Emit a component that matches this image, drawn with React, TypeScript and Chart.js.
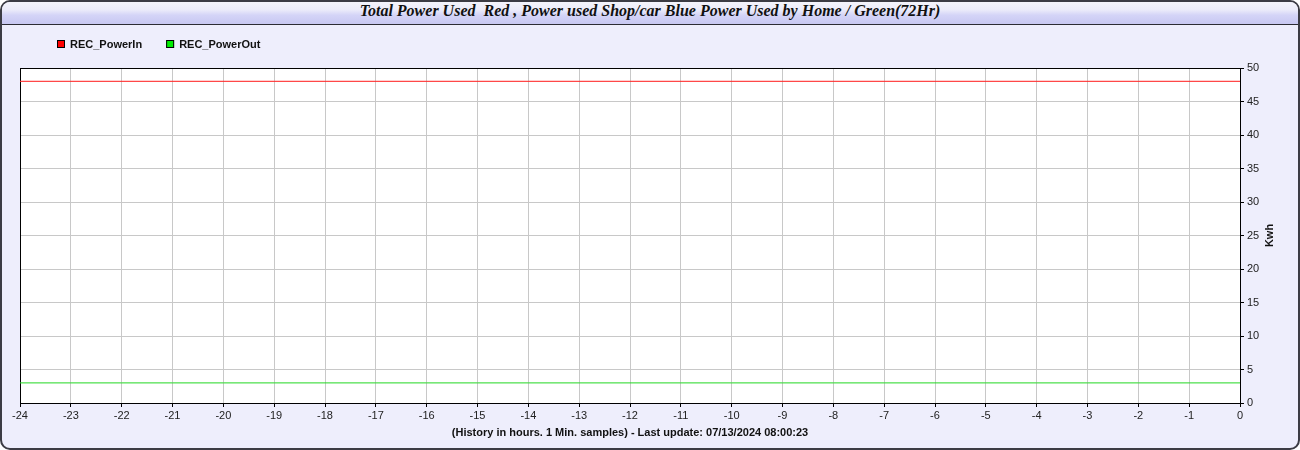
import React, { useEffect, useRef } from "react";
import { Chart, registerables } from "chart.js";

Chart.register(...registerables);

// Hourly readings over the last 24 hours (0 = now)
const hours = [-24, -23, -22, -21, -20, -19, -18, -17, -16, -15, -14, -13, -12, -11, -10, -9, -8, -7, -6, -5, -4, -3, -2, -1, 0];
const powerIn = [48, 48, 48, 48, 48, 48, 48, 48, 48, 48, 48, 48, 48, 48, 48, 48, 48, 48, 48, 48, 48, 48, 48, 48, 48];
const powerOut = [3, 3, 3, 3, 3, 3, 3, 3, 3, 3, 3, 3, 3, 3, 3, 3, 3, 3, 3, 3, 3, 3, 3, 3, 3];

const seriesLabels = ["REC_PowerIn", "REC_PowerOut"];
const seriesColors = ["rgba(255, 40, 40, 0.85)", "#22d822"];

const chartTitle = "Total Power Used  Red , Power used Shop/car Blue Power Used by Home / Green(72Hr)";
const xAxisTitle = "(History in hours. 1 Min. samples) - Last update: 07/13/2024 08:00:23";
const yAxisTitle = "Kwh";

const SANS = '"Liberation Sans", Arial, sans-serif';

const frameDecor = {
  id: "frameDecor",
  beforeDraw(chart: any) {
    const { ctx, chartArea } = chart;
    ctx.save();
    ctx.fillStyle = "#ffffff";
    ctx.fillRect(chartArea.left, chartArea.top, chartArea.right - chartArea.left, chartArea.bottom - chartArea.top);
    ctx.restore();
  },
  beforeDatasetsDraw(chart: any) {
    const { ctx, chartArea } = chart;
    ctx.save();
    ctx.strokeStyle = "#000000";
    ctx.lineWidth = 1;
    ctx.strokeRect(
      Math.round(chartArea.left) + 0.5,
      Math.round(chartArea.top) + 0.5,
      Math.round(chartArea.right - chartArea.left),
      Math.round(chartArea.bottom - chartArea.top)
    );
    ctx.restore();
  },
  afterDraw(chart: any) {
    const { ctx, chartArea } = chart;
    ctx.save();
    // legend
    ctx.font = `bold 11px ${SANS}`;
    ctx.textBaseline = "middle";
    ctx.textAlign = "left";
    let x = 57;
    chart.data.datasets.forEach((ds: any) => {
      ctx.fillStyle = ds.legendColor;
      ctx.fillRect(x, 40, 8, 8);
      ctx.strokeStyle = "#000000";
      ctx.lineWidth = 1;
      ctx.strokeRect(x + 0.5, 40.5, 7, 7);
      ctx.fillStyle = "#111111";
      ctx.fillText(ds.label, x + 13, 44.5);
      x += 13 + ctx.measureText(ds.label).width + 24;
    });
    // axis titles
    ctx.fillStyle = "#111111";
    ctx.textAlign = "center";
    ctx.fillText(xAxisTitle, (chartArea.left + chartArea.right) / 2, 432.5);
    ctx.translate(1270, (chartArea.top + chartArea.bottom) / 2);
    ctx.rotate(-Math.PI / 2);
    ctx.fillText(yAxisTitle, 0, 0);
    ctx.restore();
  },
};

export default function App() {
  const canvasRef = useRef<HTMLCanvasElement | null>(null);

  useEffect(() => {
    if (!canvasRef.current) return;
    const chart = new Chart(canvasRef.current, {
      type: "line",
      data: {
        datasets: [
          {
            label: seriesLabels[0],
            data: hours.map((h, i) => ({ x: h, y: powerIn[i] })),
            borderColor: seriesColors[0],
            legendColor: "#ff0000",
            borderWidth: 1.4,
            pointRadius: 0,
            tension: 0,
          } as any,
          {
            label: seriesLabels[1],
            data: hours.map((h, i) => ({ x: h, y: powerOut[i] })),
            borderColor: seriesColors[1],
            legendColor: "#00ee00",
            borderWidth: 1,
            pointRadius: 0,
            tension: 0,
          } as any,
        ],
      },
      options: {
        animation: false,
        responsive: false,
        events: [],
        layout: { padding: { left: 20, top: 68, right: 0, bottom: 0 } },
        plugins: {
          legend: { display: false },
          title: { display: false },
          tooltip: { enabled: false },
        },
        scales: {
          x: {
            type: "linear",
            position: "bottom",
            min: -24,
            max: 0,
            afterFit(scale: any) {
              scale.height = 47;
            },
            ticks: {
              stepSize: 1,
              autoSkip: false,
              maxRotation: 0,
              padding: 2,
              color: "#222222",
              font: { family: SANS, size: 11 },
            },
            grid: { color: "#c8c8c8", tickColor: "#000000", tickLength: 4, lineWidth: 1 },
            border: { color: "#000000", width: 1 },
          },
          y: {
            type: "linear",
            position: "right",
            min: 0,
            max: 50,
            afterFit(scale: any) {
              scale.width = 60;
            },
            ticks: {
              stepSize: 5,
              padding: 3,
              color: "#222222",
              font: { family: SANS, size: 11 },
            },
            grid: { color: "#c8c8c8", tickColor: "#000000", tickLength: 4, lineWidth: 1 },
            border: { color: "#000000", width: 1 },
          },
        },
      } as any,
      plugins: [frameDecor],
    });
    return () => chart.destroy();
  }, []);

  return (
    <div style={{ position: "fixed", left: 0, top: 0, width: 1300, height: 450 }}>
      <div
        style={{
          position: "absolute",
          left: 0,
          top: 0,
          width: 1300,
          height: 450,
          boxSizing: "border-box",
          border: "2px solid #3c3c44",
          borderRadius: 10,
          background: "#eeeefc",
          overflow: "hidden",
        }}
      >
        <div
          style={{
            height: 22,
            lineHeight: "22px",
            borderBottom: "1px solid #2c2c34",
            background: "linear-gradient(to bottom, #f4f4fb 0%, #ececfa 35%, #d4d4f7 60%, #c8c8f2 100%)",
            textAlign: "center",
            whiteSpace: "pre",
            font: 'italic bold 16px "Liberation Serif", "Times New Roman", serif',
            color: "#111111",
          }}
        >
          {chartTitle}
        </div>
      </div>
      <canvas ref={canvasRef} width={1300} height={450} style={{ position: "absolute", left: 0, top: 0 }} />
    </div>
  );
}
